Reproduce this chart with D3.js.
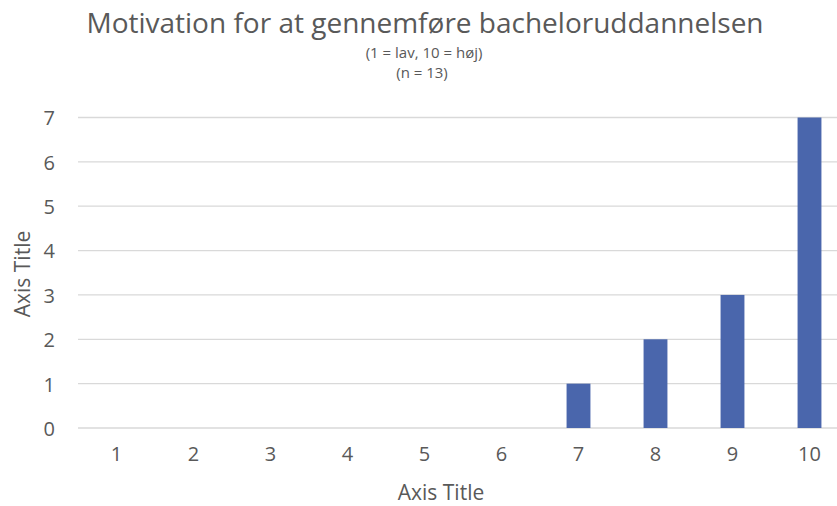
<!DOCTYPE html>
<html>
<head>
<meta charset="utf-8">
<script src="https://cdn.jsdelivr.net/npm/d3@7"></script>
<style>
  body { margin: 0; background: #fff; }
  text { font-family: "Open Sans", sans-serif; fill: #595959; }
</style>
</head>
<body>
<script>
// ----- data -----
const categories = ['1', '2', '3', '4', '5', '6', '7', '8', '9', '10'];
const counts = [0, 0, 0, 0, 0, 0, 1, 2, 3, 7];
const yTicks = [0, 1, 2, 3, 4, 5, 6, 7];

const width = 837, height = 506;

const svg = d3.select('body')
  .append('svg')
  .attr('width', width)
  .attr('height', height);

// plot area (right edge runs past the window, like the source)
const x = d3.scaleBand()
  .domain(categories)
  .range([78, 848]);

const y = d3.scaleLinear()
  .domain([0, 7])
  .range([428, 117.5]);

const barW = x.bandwidth() * 0.31;

// ----- gridlines -----
svg.append('g')
  .selectAll('line')
  .data(yTicks)
  .join('line')
  .attr('x1', 78)
  .attr('x2', 848)
  .attr('y1', d => y(d))
  .attr('y2', d => y(d))
  .attr('stroke', '#d9d9d9')
  .attr('stroke-width', 1.3);

// ----- bars -----
svg.append('g')
  .selectAll('rect')
  .data(categories.map((c, i) => ({ c, v: counts[i] })).filter(d => d.v > 0))
  .join('rect')
  .attr('x', d => x(d.c) + (x.bandwidth() - barW) / 2)
  .attr('y', d => y(d.v))
  .attr('width', barW)
  .attr('height', d => y(0) - y(d.v))
  .attr('fill', '#4a66ac');

// ----- axes (labels only) -----
const yAxis = svg.append('g')
  .attr('transform', 'translate(55,1)')
  .call(d3.axisLeft(y).tickValues(yTicks).tickFormat(d3.format('d')).tickSize(0).tickPadding(0));
yAxis.select('.domain').remove();
yAxis.selectAll('text')
  .attr('fill', '#595959')
  .style('font-size', '20px')
  .style('font-family', '"Open Sans", sans-serif');

const xAxis = svg.append('g')
  .attr('transform', 'translate(0,447)')
  .call(d3.axisBottom(x).tickSize(0).tickPadding(0));
xAxis.select('.domain').remove();
xAxis.selectAll('text')
  .attr('fill', '#595959')
  .style('font-size', '20px')
  .style('font-family', '"Open Sans", sans-serif');

// ----- titles -----
svg.append('text')
  .attr('x', 425)
  .attr('y', 33)
  .attr('text-anchor', 'middle')
  .style('font-size', '28px')
  .text('Motivation for at gennemføre bacheloruddannelsen');

svg.append('text')
  .attr('x', 424)
  .attr('y', 58)
  .attr('text-anchor', 'middle')
  .style('font-size', '15px')
  .text('(1 = lav, 10 = høj)');

svg.append('text')
  .attr('x', 422)
  .attr('y', 78)
  .attr('text-anchor', 'middle')
  .style('font-size', '15px')
  .text('(n = 13)');

svg.append('text')
  .attr('x', 441)
  .attr('y', 500)
  .attr('text-anchor', 'middle')
  .style('font-size', '21px')
  .text('Axis Title');

svg.append('text')
  .attr('transform', 'translate(30,274) rotate(-90)')
  .attr('text-anchor', 'middle')
  .style('font-size', '21px')
  .text('Axis Title');
</script>
</body>
</html>
